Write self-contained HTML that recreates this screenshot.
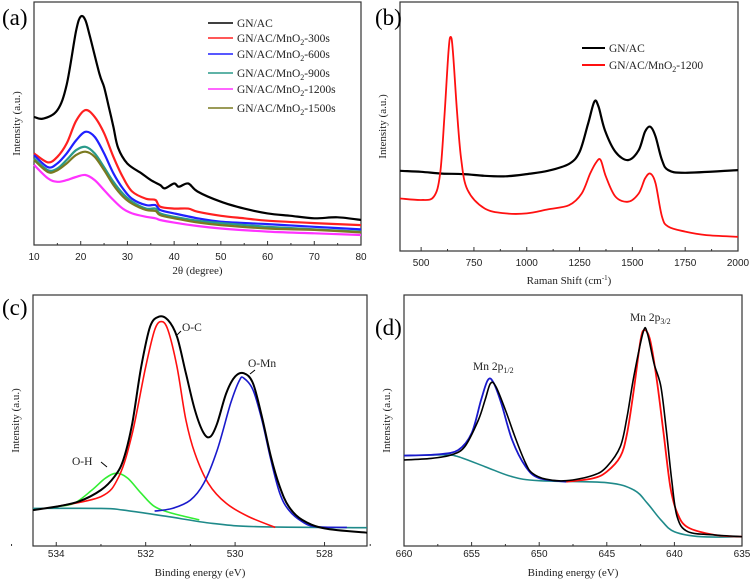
<!DOCTYPE html>
<html><head><meta charset="utf-8"><style>
html,body{margin:0;padding:0;background:#fff;}
svg{display:block;}
.tk{font-family:"Liberation Sans",Arial,sans-serif;font-size:10px;fill:#222;}
.ti{font-family:"Liberation Serif",serif;font-size:11px;fill:#222;}
.pl{font-family:"Liberation Serif",serif;font-size:23px;fill:#000;}
.lg{font-family:"Liberation Serif",serif;font-size:11.5px;fill:#222;}
</style></head><body>
<svg id="fig" width="750" height="581" viewBox="0 0 750 581" xmlns="http://www.w3.org/2000/svg"></svg>
<script>
// ---------- Panel (a) XRD ----------
const aX=[10,12,13,15,17,19,20,21,22,23,24,25,26,27,28,29,30,31,33,34,35,36,37,38,40,41,43,45,50,55,60,65,66,70,75,80];
const aGN=[52.7,52,null,55.5,66,88,94,92.5,85.6,null,70.5,65,57,48.6,40,null,33.5,null,29.5,null,26.7,null,24.7,23.3,25.3,24,25.3,22,17.8,15,13,12,null,11,11.4,10.3];
const a300X=[10,13,15,17,19,21,23,25,27,29,31,34,36,37,40,43,45,50,55,60,70,80];
const a300=[37.7,34,36.3,41.8,51,55.5,52.7,46,36.3,28,22,19,18.5,15.8,15,15,13.7,12,11,10,9,8.2];
const aSX=[10,13,15,17,19,21,23,25,27,29,31,34,36,37,40,45,50,60,70,80];
const a600=[37,32,33.6,37.7,43,46.6,44.5,37.7,29.5,23.3,19,16.4,16.4,14.4,13,11,9.6,8.6,7.5,6.4];
const a900=[35.6,30.8,31.5,35,39,40.4,37.7,32,26,21.2,17.8,15,15,13,11.6,10,9,7.5,6.4,5.5];
const a1500=[35,30,30.8,33.6,37,38.4,36.3,30.8,24.7,20,17,14.4,14,12.3,11,9.3,8.2,6.8,6.2,5.2];
const a1200=[33,27.4,26,26.7,28,28.8,26.7,22.6,18.5,15,13,11.6,11,10.3,9.2,7.8,6.8,5.5,4.8,4.1];
const aTicks=[10,20,30,40,50,60,70,80];
const aLegend=["GN/AC","GN/AC/MnO|2|-300s","GN/AC/MnO|2|-600s","GN/AC/MnO|2|-900s","GN/AC/MnO|2|-1200s","GN/AC/MnO|2|-1500s"];
// ---------- Panel (b) Raman ----------
const bX1=[400,500,600,700,800,900,1000,1100,1200,1250,1290,1320,1340,1370,1420,1480,1530,1560,1585,1610,1640,1670,1750,2000];
const bGN=[32.2,31.8,31.1,30.9,30.2,30,30.9,32.2,35,39.8,51,60,57.9,48.5,39.8,36.5,40.5,47.9,49.9,45.9,36.5,32.5,31.4,32.5];
const bX2=[400,500,560,590,610,630,640,650,670,690,720,800,900,1000,1100,1200,1260,1300,1330,1350,1375,1420,1480,1530,1560,1585,1610,1640,1670,1750,1850,2000];
const bMn=[21.1,20.5,21.8,31,53.9,80.6,86,80.6,56.1,36.5,24.5,17.1,15.1,15.1,16.7,18.4,23.1,31.1,35.8,36.5,29.8,21.8,19.8,23.1,29.1,31.1,27.1,13.8,9.8,7.8,6.4,5.7];
const bTicks=[500,750,1000,1250,1500,1750,2000];
// ---------- Panel (c) O 1s ----------
const cBX=[534.52,534,533.5,533,532.7,532.5,532.3,532.1,531.9,531.7,531.5,531.3,531.1,530.9,530.7,530.55,530.4,530.2,530,529.8,529.6,529.4,529.2,529,528.8,528.5,528,527.05];
const cTot=[14.3,15.7,17.7,22.3,27.6,34.3,48.9,71.4,87.4,91.4,90,83.4,68.8,54.2,44.9,43.6,48.9,60.8,67.5,68.8,64.8,51.5,35.6,23.6,15.7,10.4,7,5.3];
const cRX=[534,533,532.6,532.3,532,531.8,531.65,531.5,531.3,531.1,530.9,530.6,530.2,529.7,529.1];
const cOC=[15.7,19.7,27.6,44.9,71.4,86,89.4,86,71.4,50.2,36.9,25,17,11.7,7.4];
const cMX=[531.8,531.4,531,530.7,530.4,530.1,529.9,529.8,529.6,529.4,529.2,529,528.8,528.5,528.2,527.5];
const cOMn=[13.9,15,18.3,25,38.2,56.8,66.1,66.8,62.2,50.2,34.3,21,14.3,9.7,7.7,7.4];
const cHX=[534,533.6,533.2,532.9,532.65,532.4,532.1,531.8,531.4,530.8];
const cOH=[15.7,17,22.3,27,29,27,21,15.7,13,10.4];
const cBgX=[534.52,533,532.5,531.5,530.5,529.5,527.05];
const cBg=[15,15,14.3,11.7,9,7.7,7.3];
const cTicks=[534,532,530,528];
// ---------- Panel (d) Mn 2p ----------
const dX=[660,658,656.5,655.5,654.5,654,653.6,653.2,652.5,651.8,651,650.5,649.5,648,646,645,644,643.5,643,642.3,642,641.5,641,640.6,640.2,639.8,639,637,635];
const dTot=[34.3,34.9,36.3,39.6,50.2,58.2,64.8,63.5,54.2,43.6,32.9,29,26.6,26,28.2,31.6,39.6,51.5,67.5,85.4,84.7,72.6,63.5,46.2,26.3,11.7,5.7,4.4,3.7];
const dRX=[648,646,645,644,643.5,643,642.5,642.2,641.8,641.3,640.8,640.3,639.8,639,637,635];
const d32=[25.6,27,29.6,35.6,44.9,62.2,82.1,86,82.1,66.1,44.9,23.6,13.3,7.4,4.4,3.7];
const dBX=[660,657.5,656,655,654.3,653.8,653.4,652.8,652,651,650,648];
const d12=[36,36.5,38.2,44.9,58.2,66.1,65.3,56.8,42.2,31.6,27,25.6];
const dGX=[660,657,656,654,652,650,645,643,642,641,640,638,635];
const dBg=[36,36.3,35.6,31.6,27.6,26,25.2,22.3,17,10.4,5.7,3.7,3.7];
const dTicks=[660,655,650,645,640,635];

const NS="http://www.w3.org/2000/svg";
const svg=document.getElementById('fig');
function mk(tag,attrs,parent){const e=document.createElementNS(NS,tag);for(const k in attrs)e.setAttribute(k,attrs[k]);(parent||svg).appendChild(e);return e;}
function panel(name,L,R,T,B,x0,x1){
  const g=mk('g',{});
  
  
  const sx=v=>L+(v-x0)/(x1-x0)*(R-L);
  const sy=v=>B-v/100*(B-T);
  const fr=mk('rect',{x:L,y:T,width:R-L,height:B-T,fill:'none',stroke:'#333','stroke-width':1.2},g);
  
  
  return {g,sx,sy,L,R,T,B};
}
function xaxis(p,ticks,minorStep,ty,title,titleY){
  ticks.forEach((t,i)=>{
    const x=p.sx(t);
    mk('line',{x1:x,x2:x,y1:p.B,y2:p.B-4,stroke:'#333','stroke-width':1},p.g);
    const tx=mk('text',{x:x,y:ty,'text-anchor':'middle',class:'tk'},p.g);
    tx.textContent=t;
    
    
    if(i<ticks.length-1){const m=p.sx(t+minorStep);mk('line',{x1:m,x2:m,y1:p.B,y2:p.B-2,stroke:'#333','stroke-width':1},p.g);}
  });
  const tt=mk('text',{x:(p.L+p.R)/2,y:titleY,'text-anchor':'middle',class:'ti'},p.g);
  tt.innerHTML=title;
  
  
  const yt=mk('text',{x:0,y:0,'text-anchor':'middle',class:'ti',transform:`translate(${p.L-14},${(p.T+p.B)/2}) rotate(-90)`},p.g);
  yt.textContent='Intensity (a.u.)';
  
  
}
function series(p,xs,ys,color,name,w){
  const pts=[];
  xs.forEach((x,i)=>{const y=ys[i];if(y==null)return;pts.push([p.sx(x),p.sy(y)]);});
  let d='M'+pts[0][0].toFixed(1)+','+pts[0][1].toFixed(1);
  for(let i=0;i<pts.length-1;i++){
    const p0=pts[Math.max(0,i-1)],p1=pts[i],p2=pts[i+1],p3=pts[Math.min(pts.length-1,i+2)];
    const c1=[p1[0]+(p2[0]-p0[0])/6,p1[1]+(p2[1]-p0[1])/6];
    const c2=[p2[0]-(p3[0]-p1[0])/6,p2[1]-(p3[1]-p1[1])/6];
    d+='C'+c1[0].toFixed(1)+','+c1[1].toFixed(1)+' '+c2[0].toFixed(1)+','+c2[1].toFixed(1)+' '+p2[0].toFixed(1)+','+p2[1].toFixed(1);
  }
  const e=mk('path',{d:d,fill:'none',stroke:color,'stroke-width':w||1.6,'stroke-linejoin':'round'},p.g);
  
  
}
function label(x,y,txt,name,cls){
  const t=mk('text',{x:x,y:y,class:cls||'pl'});
  t.innerHTML=txt;
  
  
}
function sub(s){const p=s.split('|');return p.length>1?`${p[0]}<tspan font-size="8" dy="3">${p[1]}</tspan><tspan dy="-3">${p[2]}</tspan>`:s;}

// (a)
const pa=panel('xrd-panel',34,361,2,245,10,80);
const aCol=['#000','#ff2020','#2020ff','#2a9a8a','#ff33ff','#7a7a20'];
series(pa,aX,aGN,aCol[0],'series-gn-ac',2.2);
series(pa,a300X,a300,aCol[1],'series-300s',2.2);
series(pa,aSX,a600,aCol[2],'series-600s',2.2);
series(pa,aSX,a900,aCol[3],'series-900s',2.2);
series(pa,aSX,a1200,aCol[4],'series-1200s',2.2);
series(pa,aSX,a1500,aCol[5],'series-1500s',2.2);
xaxis(pa,aTicks,5,260,'2θ (degree)',274);
[26,41,57,76,92,111].forEach((y,i)=>{
  const l=mk('line',{x1:208,x2:233,y1:y-3,y2:y-3,stroke:aCol[i],'stroke-width':1.5});
  
  
  label(237,y+1,sub(aLegend[i]),'legend-entry','lg');
});
label(2,25,'(a)','panel-label-a');

// (b)
const pb=panel('raman-panel',400,738,2,251,400,2000);
series(pb,bX1,bGN,'#000','series-gn-ac',2.2);
series(pb,bX2,bMn,'#ff1010','series-mno2-1200',1.8);
xaxis(pb,bTicks,125,266,'Raman Shift (cm<tspan font-size="7" dy="-4">-1</tspan><tspan dy="4">)</tspan>',284);
mk('line',{x1:582,x2:605,y1:48,y2:48,stroke:'#000','stroke-width':2});
label(609,52,'GN/AC','legend-entry','lg');
mk('line',{x1:582,x2:605,y1:65,y2:65,stroke:'#ff1010','stroke-width':2});
label(609,69,'GN/AC/MnO<tspan font-size="8" dy="3">2</tspan><tspan dy="-3">-1200</tspan>','legend-entry','lg');
label(375,25,'(b)','panel-label-b');

// (c)
const pc=panel('o1s-panel',33,367,295,546,534.52,527.05);
series(pc,cBgX,cBg,'#1f8a8a','series-background',1.6);
series(pc,cHX,cOH,'#33ee33','series-o-h',1.6);
series(pc,cRX,cOC,'#ff1010','series-o-c',1.6);
series(pc,cMX,cOMn,'#1a1acc','series-o-mn',1.6);
series(pc,cBX,cTot,'#000','series-total',2);
xaxis(pc,[534,532,530,528],1,557,'Binding energy (eV)',576);
label(182,331,'O-C','annotation-o-c','lg');
label(72,465,'O-H','annotation-o-h','lg');
label(248,367,'O-Mn','annotation-o-mn','lg');
mk('line',{x1:181,x2:176,y1:331,y2:336,stroke:'#000','stroke-width':1});
mk('line',{x1:101,x2:107,y1:462,y2:467,stroke:'#000','stroke-width':1});
mk('line',{x1:255,x2:250,y1:370,y2:374,stroke:'#000','stroke-width':1});
label(2,315,'(c)','panel-label-c');

// (d)
const pd=panel('mn2p-panel',404,742,295,546,660,635);
series(pd,dGX,dBg,'#1f8a8a','series-background',1.6);
series(pd,dBX,d12,'#1a1acc','series-mn-2p12',1.8);
series(pd,dRX,d32,'#ff1010','series-mn-2p32',1.8);
series(pd,dX,dTot,'#000','series-total',1.6);
xaxis(pd,dTicks,2.5,557,'Binding energy (eV)',576);
label(473,370,'Mn 2p<tspan font-size="8" dy="3">1/2</tspan>','annotation-mn-2p12','lg');
label(630,321,'Mn 2p<tspan font-size="8" dy="3">3/2</tspan>','annotation-mn-2p32','lg');
label(375,335,'(d)','panel-label-d');
</script>
</body></html>
